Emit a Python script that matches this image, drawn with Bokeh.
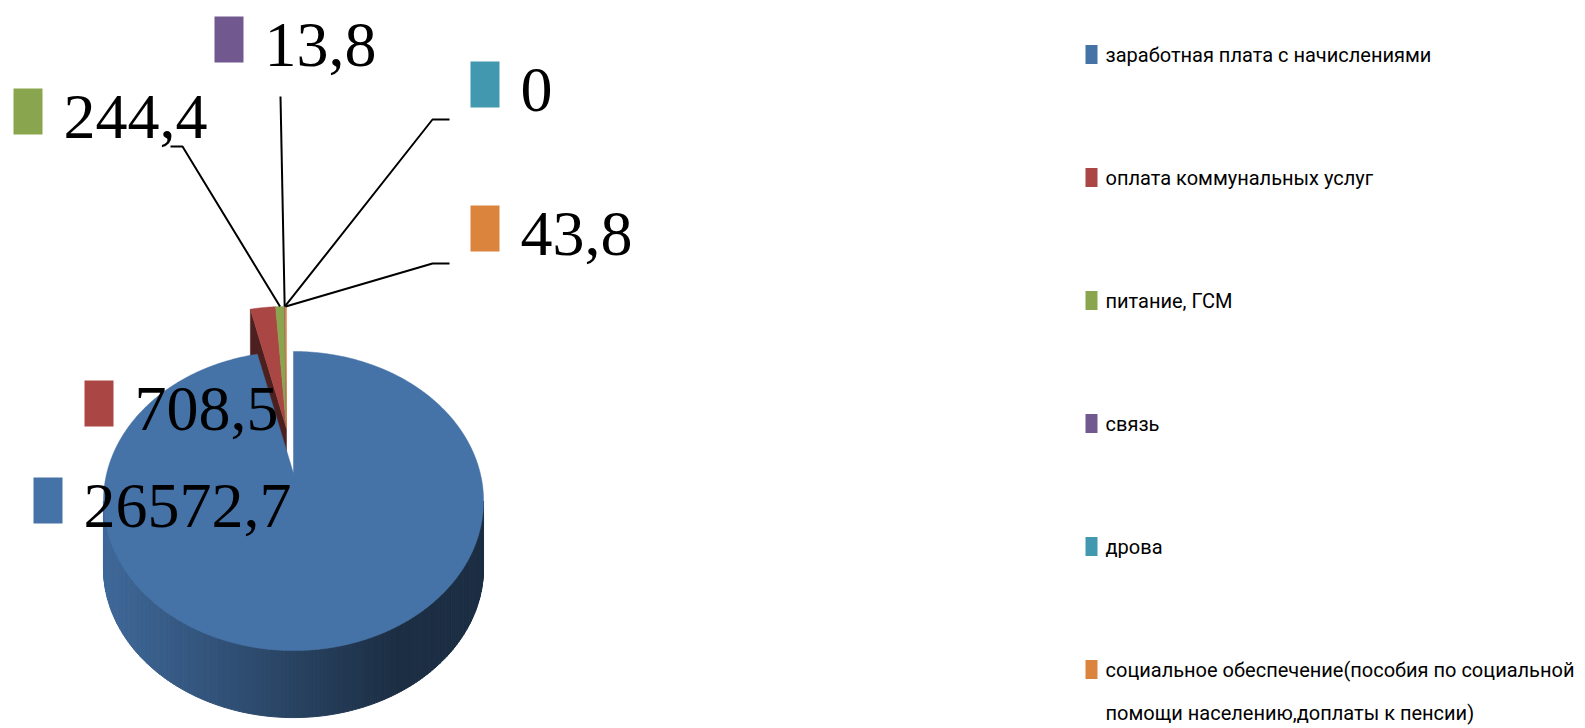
import textwrap
import numpy as np
from bokeh.plotting import figure
from bokeh.models import Range1d
from bokeh.core.properties import value
from bokeh.embed import file_html
from bokeh.resources import INLINE

# ---------------- data ----------------
categories = [
    "заработная плата с начислениями",
    "оплата коммунальных услуг",
    "питание, ГСМ",
    "связь",
    "дрова",
    "социальное обеспечение(пособия по социальной помощи населению,доплаты к пенсии)",
]
values = [26572.7, 708.5, 244.4, 13.8, 0.0, 43.8]
colors = ["#4572A7", "#AA4643", "#89A54E", "#71588F", "#4198AF", "#DB843D"]
value_labels = [("%g" % v).replace(".", ",") for v in values]

# ---------------- layout (pixels) ----------------
W, H = 1585, 728
RX, RY, PERSP = 186.8, 144.5, 0.184      # pie top ellipse + perspective
DEPTH = 67                               # pie thickness on screen
CENTER = (286.0, 428.0)                  # pie centre
EXPLODE = {0: (7.0, 45.0)}               # screen offset of exploded slice

LABEL_BOX = [(33, 477), (84, 380), (13, 88), (214, 16), (470, 61), (470, 205)]
KEY_W, KEY_H = 29, 46
LEADERS = {2: [(182, 146), (170, 146)], 3: [(280, 96)],
           4: [(432, 119), (449, 119)], 5: [(432, 263), (449, 263)]}

LEG_X, LEG_Y0, LEG_DY = 1085, 54, 123


def hex2rgb(h):
    h = h.lstrip("#")
    return tuple(int(h[k:k + 2], 16) for k in (0, 2, 4))


def shade(h, f):
    return "#%02x%02x%02x" % tuple(int(round(max(0, min(255, c * f)))) for c in hex2rgb(h))


vals = np.array(values, dtype=float)
frac = vals / vals.sum()
cum = np.concatenate([[0.0], np.cumsum(frac)])
th0 = 90.0 - 360.0 * cum[:-1]
th1 = 90.0 - 360.0 * cum[1:]


def proj(c, th_deg):
    t = np.radians(th_deg)
    u, v = np.cos(t), np.sin(t)
    w = 1.0 + PERSP * v
    return c[0] + RX * u / w, c[1] - RY * v / w


def center_of(i):
    dx, dy = EXPLODE.get(i, (0.0, 0.0))
    return (CENTER[0] + dx, CENTER[1] + dy)


p = figure(width=W, height=H, x_range=Range1d(0, W), y_range=Range1d(H, 0),
           x_axis_location=None, y_axis_location=None, toolbar_location=None,
           output_backend="svg", min_border=0, outline_line_color=None,
           background_fill_color="white", border_fill_color="white")
p.grid.visible = False

# ---- radial wall of the (non-exploded) back group ----
c = center_of(1)
ax, ay = proj(c, th0[1])
wc = shade(colors[1], 0.45)
p.patch([c[0], ax, ax, c[0]], [c[1], ay, ay + DEPTH, c[1] + DEPTH],
        fill_color=wc, line_color=wc, line_width=0.5)

# ---- top faces of small slices ----
for i in range(1, len(values)):
    if frac[i] <= 0:
        continue
    c = center_of(i)
    n = max(3, int(abs(th0[i] - th1[i]) * 4) + 2)
    x, y = proj(c, np.linspace(th0[i], th1[i], n))
    p.patch([c[0]] + list(x), [c[1]] + list(y), fill_color=colors[i],
            line_color=colors[i], line_width=0.5)

# ---- front side (shaded strips) ----
lo = 180.0 + np.degrees(np.arcsin(PERSP))
hi = 360.0 - np.degrees(np.arcsin(PERSP))
edges = np.linspace(lo, hi, 161)
sx, sy, sc = [], [], []
for a0, a1 in zip(edges[:-1], edges[1:]):
    mid = 0.5 * (a0 + a1)
    f = ((90.0 - mid) % 360.0) / 360.0
    idx = int(np.searchsorted(cum, f, side="right") - 1)
    idx = min(max(idx, 0), len(values) - 1)
    c = center_of(idx)
    x0, y0 = proj(c, a0)
    x1, y1 = proj(c, a1)
    xl = c[0] - RX / np.sqrt(1 - PERSP ** 2)
    xr = c[0] + RX / np.sqrt(1 - PERSP ** 2)
    t = np.clip((0.5 * (x0 + x1) - xl) / (0.78 * (xr - xl)), 0, 1)
    col = shade(colors[idx], 0.92 - 0.52 * t)
    sx.append([x0, x1, x1, x0])
    sy.append([y0, y1, y1 + DEPTH, y0 + DEPTH])
    sc.append(col)
p.patches(sx, sy, fill_color=sc, line_color=sc, line_width=1)

# ---- top face of exploded big slice ----
c = center_of(0)
x, y = proj(c, np.linspace(th0[0], th1[0], 900))
p.patch([c[0]] + list(x), [c[1]] + list(y), fill_color=colors[0],
        line_color=colors[0], line_width=0.5)

# ---- leader lines ----
lx, ly = [], []
for i, pts in LEADERS.items():
    ax, ay = proj(center_of(i), 0.5 * (th0[i] + th1[i]))
    lx.append([ax] + [q[0] for q in pts])
    ly.append([ay] + [q[1] for q in pts])
p.multi_line(lx, ly, line_color="black", line_width=2)

# ---- data labels ----
bx = [b[0] for b in LABEL_BOX]
by = [b[1] for b in LABEL_BOX]
p.quad(left=bx, right=[v + KEY_W for v in bx], top=by, bottom=[v + KEY_H for v in by],
       fill_color=colors, line_color=None)
p.text(x=[v + 50 for v in bx], y=[v + 28 for v in by], text=value_labels,
       text_font=value("Liberation Serif"), text_font_size="64px",
       text_baseline="middle", text_align="left", text_color="black")

# ---- legend ----
ly0 = [LEG_Y0 + LEG_DY * i for i in range(len(categories))]
p.quad(left=[LEG_X] * len(categories), right=[LEG_X + 12] * len(categories),
       top=[v - 9.5 for v in ly0], bottom=[v + 9.5 for v in ly0],
       fill_color=colors, line_color=None)
tx, ty, tt = [], [], []
for i, cat in enumerate(categories):
    for k, line in enumerate(textwrap.wrap(cat, 44)):
        tx.append(LEG_X + 20)
        ty.append(ly0[i] + 43 * k)
        tt.append(line)
p.text(x=tx, y=ty, text=tt, text_font=value("Roboto"),
       text_font_size="20px", text_baseline="middle", text_align="left",
       text_color="black")

open("out.html", "w").write(file_html(p, INLINE))
